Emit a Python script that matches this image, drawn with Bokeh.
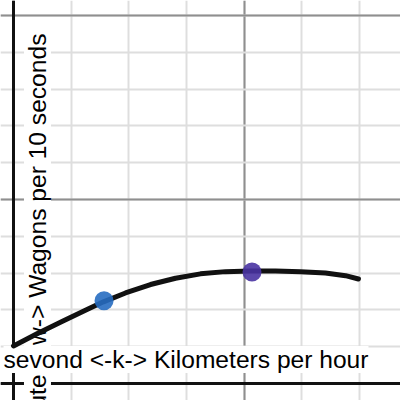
from bokeh.plotting import figure
from bokeh.models import SingleIntervalTicker, Span, Range1d
from bokeh.core.properties import value
from bokeh.embed import file_html
from bokeh.resources import INLINE
import math

# curve samples (x: speed units, y: flow units)
curve_x = [0.0, 2.08, 4.25, 6.42, 7.80, 9.71, 11.88, 14.05, 16.21, 18.38, 20.55, 22.72, 24.89, 27.05, 28.79, 29.91]
curve_y = [1.02, 1.36, 1.69, 2.02, 2.22, 2.46, 2.69, 2.86, 2.98, 3.04, 3.06, 3.06, 3.04, 3.00, 2.93, 2.84]

blue_pt = ([7.85], [2.25])
purple_pt = ([20.68], [3.03])

x_label = "sevond <-k-> Kilometers per hour"
y_label = "minute <-w-> Wagons per 10 seconds"

p = figure(width=400, height=400, output_backend="svg", toolbar_location=None,
           x_range=Range1d(-1.127, 33.556), y_range=Range1d(-0.462, 10.408),
           min_border=0, outline_line_color=None)
p.xaxis.visible = False
p.yaxis.visible = False

xt = SingleIntervalTicker(interval=20, num_minor_ticks=4)
yt = SingleIntervalTicker(interval=5, num_minor_ticks=5)
p.xgrid.ticker = xt
p.ygrid.ticker = yt
for g in (p.xgrid, p.ygrid):
    g.grid_line_color = "#8f8f8f"
    g.grid_line_width = 2
    g.minor_grid_line_color = "#dedede"
    g.minor_grid_line_width = 2

p.add_layout(Span(location=0, dimension="height", line_color="#111111", line_width=3, level="underlay"))
p.add_layout(Span(location=0, dimension="width", line_color="#111111", line_width=3, level="underlay"))

p.text(x=[2.08], y=[9.51], text=[y_label], angle=math.pi / 2,
       text_font=value("Liberation Sans"), text_font_size=value("24.6px"),
       text_align="right", text_baseline="alphabetic", text_color="#000000",
       background_fill_color="white", background_fill_alpha=1.0)
p.text(x=[30.78], y=[0.65], text=[x_label],
       text_font=value("Liberation Sans"), text_font_size=value("24.6px"),
       text_align="right", text_baseline="alphabetic", text_color="#000000",
       background_fill_color="white", background_fill_alpha=1.0)

p.line(curve_x, curve_y, line_color="#111111", line_width=5, line_cap="round", line_join="round")

p.scatter(*blue_pt, size=19, fill_color="#276dc1", fill_alpha=0.9, line_color=None)
p.scatter(*purple_pt, size=19, fill_color="#4933a2", fill_alpha=0.9, line_color=None)

open("out.html", "w").write(file_html(p, INLINE))
